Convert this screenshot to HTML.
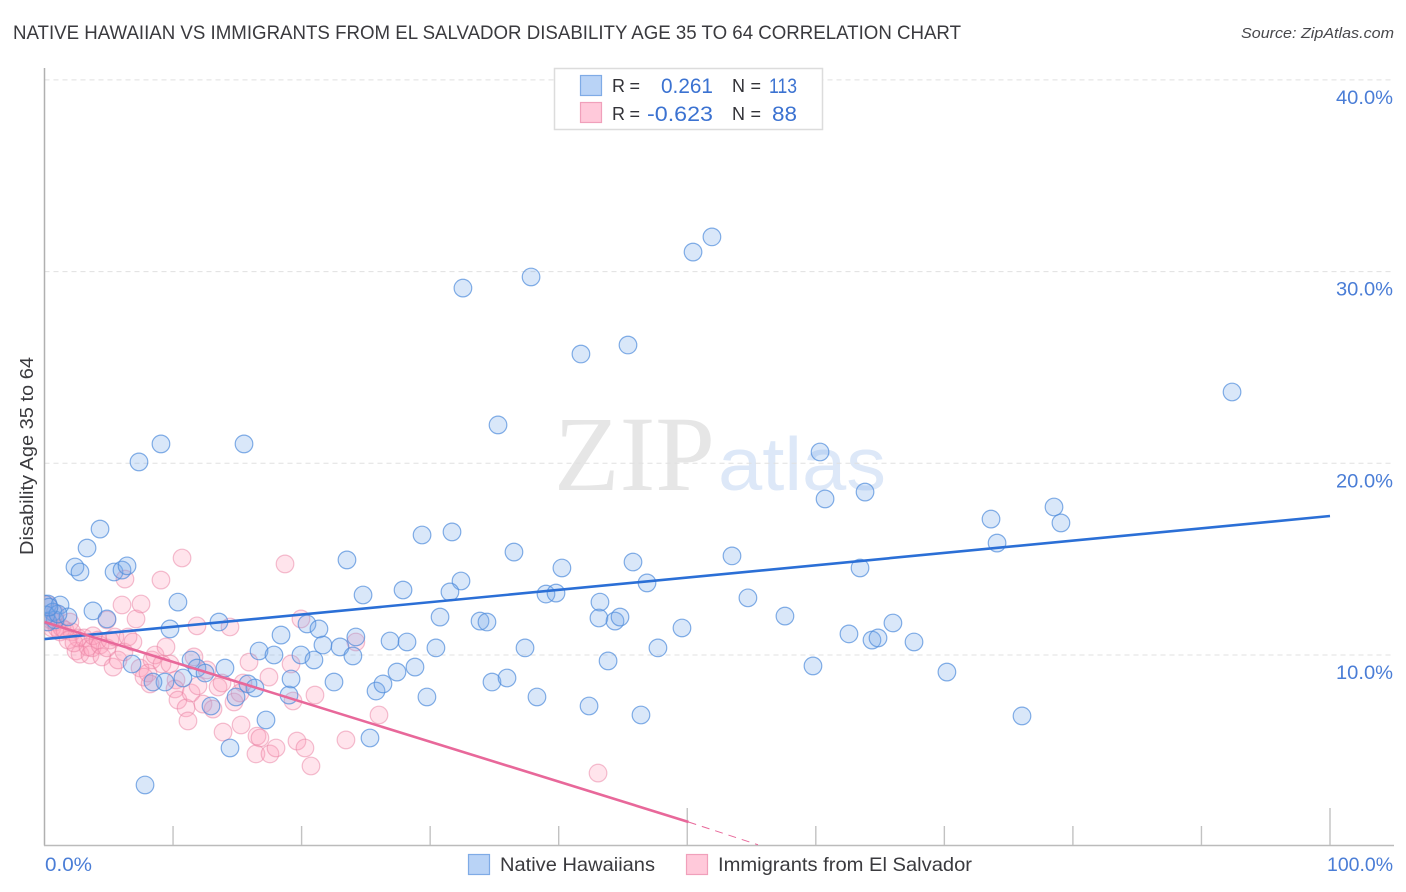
<!DOCTYPE html>
<html lang="en">
<head>
<meta charset="utf-8">
<title>Native Hawaiian vs Immigrants from El Salvador Disability Age 35 to 64 Correlation Chart</title>
<style>
html,body{margin:0;padding:0;background:#fff;}
body{width:1406px;height:892px;overflow:hidden;}
svg{display:block;font-family:"Liberation Sans",sans-serif;}
</style>
</head>
<body>
<svg id="chart" xmlns="http://www.w3.org/2000/svg" width="1406" height="892" viewBox="0 0 1406 892">
  <defs>
    <clipPath id="plot-clip"><rect x="44.5" y="60" width="1350" height="785"/></clipPath>
  </defs>
  <rect x="0" y="0" width="1406" height="892" fill="#ffffff"/>
  <text x="13" y="39" font-size="19.5" fill="#3a3a3e" textLength="948" lengthAdjust="spacingAndGlyphs">NATIVE HAWAIIAN VS IMMIGRANTS FROM EL SALVADOR DISABILITY AGE 35 TO 64 CORRELATION CHART</text>
  <text x="1241" y="38" font-size="15" font-style="italic" fill="#48484c" textLength="153" lengthAdjust="spacingAndGlyphs">Source: ZipAtlas.com</text>
  <g>
    <text x="554" y="490" font-family="'Liberation Serif',serif" font-size="107" fill="#e6e6e6" textLength="161" lengthAdjust="spacingAndGlyphs">ZIP</text>
    <text x="718" y="490" font-size="75" fill="#dde8f8" textLength="168" lengthAdjust="spacingAndGlyphs">atlas</text>
  </g>
  <g id="grid"></g>
  <g id="axes"></g>
  <g id="points" clip-path="url(#plot-clip)"></g>
  <g id="trends"></g>
  <text transform="translate(33,456) rotate(-90)" text-anchor="middle" font-size="18" fill="#3a3a3e" textLength="198" lengthAdjust="spacingAndGlyphs">Disability Age 35 to 64</text>
  <g>
    <rect x="554.5" y="68.5" width="268" height="61" fill="#ffffff" stroke="#dcdcdc" stroke-width="1.5"/>
    <rect x="580.5" y="75.5" width="21" height="20" fill="#b9d3f6" stroke="#7fabe6" stroke-width="1.2"/>
    <rect x="580.5" y="102.5" width="21" height="20" fill="#ffc9da" stroke="#f0a0bb" stroke-width="1.2"/>
    <text x="612" y="92" font-size="18" fill="#333338" textLength="28">R =</text>
    <text x="661" y="93" font-size="21" fill="#3b72d1" textLength="52" lengthAdjust="spacingAndGlyphs">0.261</text>
    <text x="732" y="92" font-size="18" fill="#333338" textLength="29">N =</text>
    <text x="769" y="93" font-size="21" fill="#3b72d1" textLength="28" lengthAdjust="spacingAndGlyphs">113</text>
    <text x="612" y="120" font-size="18" fill="#333338" textLength="28">R =</text>
    <text x="647" y="121" font-size="21" fill="#3b72d1" textLength="66" lengthAdjust="spacingAndGlyphs">-0.623</text>
    <text x="732" y="120" font-size="18" fill="#333338" textLength="29">N =</text>
    <text x="772" y="121" font-size="21" fill="#3b72d1" textLength="25" lengthAdjust="spacingAndGlyphs">88</text>
  </g>
  <g>
    <rect x="468.5" y="854.5" width="21" height="20" fill="#b9d3f6" stroke="#7fabe6" stroke-width="1.2"/>
    <text x="500" y="871" font-size="19.5" fill="#3a3a3e" textLength="155" lengthAdjust="spacingAndGlyphs">Native Hawaiians</text>
    <rect x="686.5" y="854.5" width="21" height="20" fill="#ffc9da" stroke="#f0a0bb" stroke-width="1.2"/>
    <text x="718" y="871" font-size="19.5" fill="#3a3a3e" textLength="254" lengthAdjust="spacingAndGlyphs">Immigrants from El Salvador</text>
  </g>
</svg>
<script>
const xTickValues = [0,10,20,30,40,50,60,70,80,90,100];
const majorXTicks = [50,100];
const yTickValues = [10,20,30,40];
const yTickLabels = ["10.0%","20.0%","30.0%","40.0%"];
const xEndLabels = ["0.0%","100.0%"];

const blueX = [0,0.27,1.21,0.66,0.82,1.83,0.27,0.12,1.05,0.35,3.77,4.86,4.32,3.31,2.37,2.76,5.41,6.03,6.42,7.35,9.06,15.52,10.38,9.76,13.57,6.81,11.40,11.86,12.49,14.04,10.77,9.37,8.44,12.95,14.90,15.83,16.37,19.02,19.18,16.69,17.85,18.40,19.95,20.96,20.42,21.35,21.66,22.99,24.22,23.99,22.52,23.53,24.78,25.79,26.33,27.42,28.82,29.75,26.88,28.20,30.45,30.77,27.89,29.37,31.70,32.40,31.54,33.88,34.42,34.81,35.98,37.38,38.31,36.52,39.01,39.79,40.25,43.21,43.13,44.38,44.77,43.84,42.36,46.40,45.78,46.87,47.72,49.59,53.48,54.72,57.60,59.78,62.58,64.37,64.84,66.00,67.64,70.20,76.04,73.63,74.10,78.53,79.07,63.44,63.83,60.72,60.33,92.38,35.28,32.55,37.85,41.73,45.39,50.45,51.92,14.43,17.23,25.32,7.82];
const blueY = [12.66,12.66,12.61,12.24,11.83,11.99,11.72,12.09,12.14,12.50,12.30,11.88,16.57,15.58,14.59,14.33,14.33,14.43,14.65,20.07,21.01,21.01,12.76,11.36,11.72,9.53,9.74,9.32,9.06,9.32,8.80,8.59,8.59,7.34,7.81,8.49,8.28,7.91,8.75,10.21,10.00,11.04,10.00,9.74,11.62,11.36,10.52,10.42,10.94,9.95,8.59,14.96,13.13,8.12,8.49,9.11,9.37,7.81,10.73,10.68,10.37,11.98,13.39,16.26,16.42,13.86,13.29,11.77,11.72,8.59,8.80,10.37,7.81,15.37,13.18,13.23,14.54,12.76,11.93,11.77,11.98,9.69,7.34,6.87,14.85,13.76,10.37,11.41,15.17,12.98,12.03,9.43,11.10,10.78,10.89,11.67,10.68,9.11,6.82,17.09,15.84,17.72,16.89,14.54,18.50,18.14,20.59,23.72,22.00,29.14,29.72,25.70,26.17,31.02,31.81,5.15,6.61,5.67,3.22];

const pinkX = [0.27,0.12,0.51,0.82,0.58,0.82,0.97,1.21,1.36,1.59,1.98,2.14,2.45,2.76,2.61,3.07,1.83,2.29,3.38,3.54,3.70,3.77,4.16,4.32,4.47,4.86,4.86,5.09,5.33,5.48,5.72,6.03,6.18,6.26,6.50,6.88,7.12,7.43,7.51,7.74,8.05,8.21,8.36,8.60,9.06,9.14,9.45,9.76,10.23,10.15,10.38,10.70,11.01,11.16,11.40,11.63,11.86,11.94,12.33,12.64,13.11,13.50,13.81,13.89,14.43,14.74,15.29,15.44,15.21,15.91,16.53,16.76,16.45,17.46,17.54,18.01,18.71,19.18,19.33,19.64,19.95,20.26,20.73,21.04,23.45,24.22,26.02,43.06];
const pinkY = [12.61,11.72,11.83,12.19,11.41,11.72,11.41,11.20,11.41,11.30,11.72,11.20,10.21,10.05,10.89,10.89,10.78,10.63,10.42,10.00,10.37,11.00,10.78,10.52,9.90,11.83,10.37,10.78,9.37,10.94,9.74,12.61,10.16,13.96,10.94,10.68,11.88,9.32,12.66,8.85,9.06,8.49,9.74,10.00,13.91,9.53,10.42,9.53,8.70,8.23,7.65,15.06,7.24,6.56,8.02,9.90,11.52,8.39,7.44,9.22,7.18,8.33,8.54,5.98,11.46,7.55,6.35,8.54,8.02,9.63,5.77,5.67,4.84,8.85,4.84,5.15,14.75,9.53,7.60,5.51,11.88,5.15,4.21,7.91,5.57,10.68,6.87,3.84];

const blueTrendX = [0,100];
const blueTrendY = [10.83,17.25];
const pinkTrendX = [0,50.1];
const pinkTrendY = [11.72,1.29];
const pinkDashX = [50.1,55.5];
const pinkDashY = [1.29,0.1];

const NS = "http://www.w3.org/2000/svg";
function sx(v){ return 44.5 + v * 12.855; }
function sy(v){ return 846.7 - v * 19.17; }
function make(tag, attrs, parent){
  const el = document.createElementNS(NS, tag);
  for (const k in attrs) el.setAttribute(k, attrs[k]);
  parent.appendChild(el);
  return el;
}

const grid = document.getElementById("grid");
yTickValues.forEach(function(v){
  const line = make("line", {x1:44.5, x2:1394, y1:sy(v), y2:sy(v), stroke:"#e0e0e0", "stroke-width":1, "stroke-dasharray":"5 4"}, grid);
  
  
});

const axes = document.getElementById("axes");
const yAxis = make("line", {x1:44.5, x2:44.5, y1:68, y2:845.5, stroke:"#b0b0b0", "stroke-width":1.5}, axes);


const xAxis = make("line", {x1:44, x2:1394, y1:845.5, y2:845.5, stroke:"#bbbbbb", "stroke-width":1.5}, axes);


xTickValues.forEach(function(v){
  if (v === 0) return;
  const top = majorXTicks.indexOf(v) >= 0 ? 808 : 826;
  const tick = make("line", {x1:sx(v), x2:sx(v), y1:top, y2:845, stroke:"#c2c2c2", "stroke-width":1.4}, axes);
  
  
});
yTickValues.forEach(function(v, i){
  const t = make("text", {x:1393, y:sy(v)+24, "text-anchor":"end", "font-size":19.5, fill:"#4a7dd6", textLength:57, lengthAdjust:"spacingAndGlyphs"}, axes);
  t.textContent = yTickLabels[i];
  
  
});
const x0Label = make("text", {x:45, y:871, "font-size":19.5, fill:"#4a7dd6", textLength:47, lengthAdjust:"spacingAndGlyphs"}, axes);
x0Label.textContent = xEndLabels[0];


const x100Label = make("text", {x:1327, y:871, "font-size":19.5, fill:"#4a7dd6", textLength:66, lengthAdjust:"spacingAndGlyphs"}, axes);
x100Label.textContent = xEndLabels[1];



const points = document.getElementById("points");
pinkX.forEach(function(v, i){
  const c = make("circle", {cx:sx(v), cy:sy(pinkY[i]), r:8.8, fill:"#ff9dbb", "fill-opacity":0.28, stroke:"#ea7fa2", "stroke-opacity":0.5, "stroke-width":1.2}, points);
  
  
});
blueX.forEach(function(v, i){
  const c = make("circle", {cx:sx(v), cy:sy(blueY[i]), r:8.8, fill:"#76a8ea", "fill-opacity":0.28, stroke:"#4f8bdc", "stroke-opacity":0.7, "stroke-width":1.2}, points);
  
  
});

const trends = document.getElementById("trends");
const blueTrend = make("line", {x1:sx(blueTrendX[0]), y1:sy(blueTrendY[0]), x2:sx(blueTrendX[1]), y2:sy(blueTrendY[1]), stroke:"#2b6fd6", "stroke-width":2.6}, trends);


const pinkTrend = make("line", {x1:sx(pinkTrendX[0]), y1:sy(pinkTrendY[0]), x2:sx(pinkTrendX[1]), y2:sy(pinkTrendY[1]), stroke:"#e8689a", "stroke-width":2.6}, trends);


const pinkDash = make("line", {x1:sx(pinkDashX[0]), y1:sy(pinkDashY[0]), x2:sx(pinkDashX[1]), y2:sy(pinkDashY[1]), stroke:"#e8689a", "stroke-width":1, "stroke-dasharray":"8 6"}, trends);


</script>
</body>
</html>
